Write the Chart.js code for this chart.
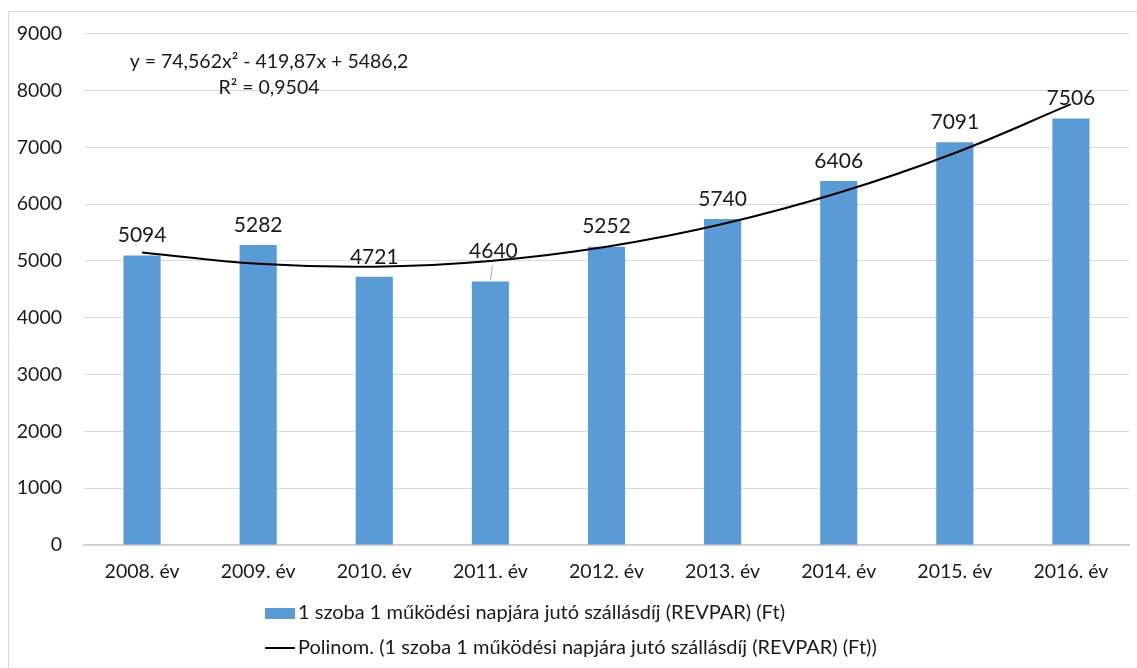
<!DOCTYPE html>
<html>
<head>
<meta charset="utf-8">
<script src="https://cdn.jsdelivr.net/npm/chart.js@4"></script>
<style>
  html, body { margin: 0; padding: 0; background: #fff; }
  #wrap { position: relative; width: 1137px; height: 668px; }
</style>
</head>
<body>
<div id="wrap"><canvas id="chart"></canvas></div>
<script>
// adatok
const years = ['2008. év', '2009. év', '2010. év', '2011. év', '2012. év', '2013. év', '2014. év', '2015. év', '2016. év'];
const revpar = [5094, 5282, 4721, 4640, 5252, 5740, 6406, 7091, 7506];
// trendvonal értékei
const trendValues = [5150, 4950, 4900, 5000, 5250, 5650, 6200, 6900, 7760];
const yTicks = [0, 1000, 2000, 3000, 4000, 5000, 6000, 7000, 8000, 9000];

const barLabel = '1 szoba 1 működési napjára jutó szállásdíj (REVPAR) (Ft)';
const trendLabel = 'Polinom. (1 szoba 1 működési napjára jutó szállásdíj (REVPAR) (Ft))';
const equationText = 'y = 74,562x² - 419,87x + 5486,2';
const rSquaredText = 'R² = 0,9504';

const FONT = 'Lato, "Open Sans", sans-serif';
const BAR_COLOR = '#5b9bd5';
const GRID_COLOR = '#d9d9d9';

// keret, adatcímkék, egyenlet, jelmagyarázat
const extrasPlugin = {
    id: 'extras',
    beforeDraw(chart) {
        const ctx = chart.ctx;
        ctx.save();
        ctx.fillStyle = '#fff';
        ctx.fillRect(0, 0, chart.width, chart.height);
        ctx.strokeStyle = GRID_COLOR;
        ctx.lineWidth = 1;
        ctx.beginPath();
        ctx.moveTo(8.5, chart.height);
        ctx.lineTo(8.5, 11.5);
        ctx.lineTo(chart.width, 11.5);
        ctx.stroke();
        ctx.restore();
    },
    afterDatasetsDraw(chart) {
        const ctx = chart.ctx;
        const meta = chart.getDatasetMeta(0 + 1);
        ctx.save();
        ctx.font = '21px ' + FONT;
        ctx.fillStyle = '#1a1a1a';
        ctx.textAlign = 'center';
        ctx.textBaseline = 'middle';
        meta.data.forEach((bar, i) => {
            let x = bar.x;
            let y = bar.y - 20;
            if (i === 3) {
                // címke feljebb tolva, vezetővonallal
                x += 3;
                y = bar.y - 30;
                ctx.strokeStyle = '#a6a6a6';
                ctx.lineWidth = 1;
                ctx.beginPath();
                ctx.moveTo(bar.x, bar.y - 1);
                ctx.lineTo(bar.x + 2, bar.y - 16);
                ctx.stroke();
            }
            ctx.fillText(String(revpar[i]), x, y);
        });

        // trend egyenlet
        ctx.font = '19.5px ' + FONT;
        ctx.fillText(equationText, 269, 62);
        ctx.fillText(rSquaredText, 269, 88);

        // jelmagyarázat
        ctx.textAlign = 'left';
        ctx.font = '20px ' + FONT;
        ctx.fillStyle = BAR_COLOR;
        ctx.fillRect(265, 608, 30, 11);
        ctx.fillStyle = '#1a1a1a';
        ctx.fillText(barLabel, 298, 613);
        ctx.strokeStyle = '#000';
        ctx.lineWidth = 2;
        ctx.beginPath();
        ctx.moveTo(265, 648);
        ctx.lineTo(295, 648);
        ctx.stroke();
        ctx.fillText(trendLabel, 298, 648);
        ctx.restore();
    }
};

const ctx = document.getElementById('chart').getContext('2d');
new Chart(ctx, {
    type: 'bar',
    data: {
        labels: years,
        datasets: [{
            type: 'line',
            label: trendLabel,
            data: trendValues,
            borderColor: '#000',
            borderWidth: 2,
            pointRadius: 0,
            tension: 0.4,
            fill: false,
            order: 1
        }, {
            type: 'bar',
            label: barLabel,
            data: revpar,
            backgroundColor: BAR_COLOR,
            barPercentage: 0.32,
            categoryPercentage: 1,
            order: 2
        }]
    },
    options: {
        responsive: true,
        maintainAspectRatio: false,
        animation: false,
        layout: {
            padding: { top: 33, right: 8, bottom: 80, left: 0 }
        },
        plugins: {
            legend: { display: false },
            tooltip: { enabled: false }
        },
        scales: {
            x: {
                afterFit(scale) { scale.height = 43; },
                grid: { display: false, drawTicks: false },
                border: { display: true, color: '#d0d0d0', width: 2 },
                ticks: {
                    color: '#1a1a1a',
                    font: { family: FONT, size: 19.5 },
                    padding: 15,
                    maxRotation: 0
                }
            },
            y: {
                min: 0,
                max: 9000,
                afterFit(scale) { scale.width = 84; },
                afterBuildTicks(scale) { scale.ticks = yTicks.map(v => ({ value: v })); },
                grid: { color: GRID_COLOR, drawTicks: false },
                border: { display: false },
                ticks: {
                    color: '#1a1a1a',
                    font: { family: FONT, size: 19.5 },
                    padding: 22,
                    callback: v => String(v)
                }
            }
        }
    },
    plugins: [extrasPlugin]
});
</script>
</body>
</html>
